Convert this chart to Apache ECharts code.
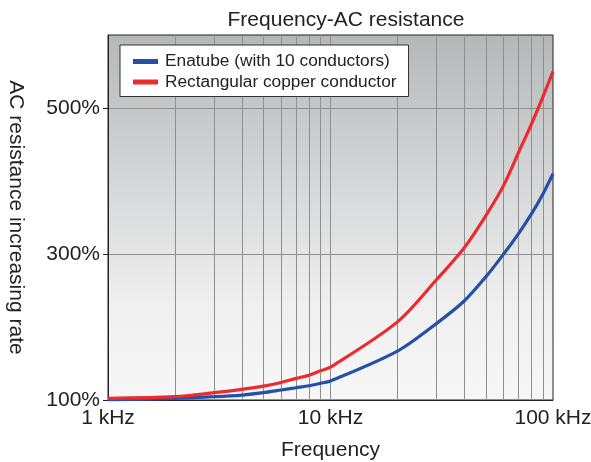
<!DOCTYPE html>
<html>
<head>
<meta charset="utf-8">
<script src="https://cdn.jsdelivr.net/npm/echarts@6/dist/echarts.min.js"></script>
<style>html,body{margin:0;padding:0;background:#fff}#c{width:591px;height:462px}</style>
</head>
<body>
<div id="c"></div>
<script>
const freqs = [1000,2000,3000,4000,5000,6000,7000,8000,9000,10000,20000,30000,40000,50000,60000,70000,80000,90000,100000];
const enatube = [100,102.3,104.5,106.8,110,113.7,116.8,119.5,122.8,126,167,205,236,269,300,328,355,382,410];
const rectangular = [102.3,104.5,110,114.6,119,124,129.6,134,140,145,207,265,309,353,394,439,478,515,550];
const gridFreqs = [2000,3000,4000,5000,6000,7000,8000,9000,10000,20000,30000,40000,50000,60000,70000,80000,90000];
const xLabels = [1000,10000,100000];
const yTicks = [100,300,500];
const seriesNames = ['Enatube (with 10 conductors)','Rectangular copper conductor'];

const font = 'Liberation Sans, Arial, sans-serif';
const pair = (xs, ys) => xs.map((x, i) => [x, ys[i]]);

const chart = echarts.init(document.getElementById('c'));
chart.setOption({
  animation: false,
  title: {
    text: 'Frequency-AC resistance',
    left: 341, top: 5, textAlign: 'center',
    textStyle: {fontFamily: font, fontSize: 21, fontWeight: 'normal', color: '#222'}
  },
  legend: {
    left: 120, top: 45, orient: 'vertical',
    backgroundColor: '#fff', borderColor: '#333', borderWidth: 1,
    padding: [8, 12, 6, 13], itemGap: 3.5,
    itemWidth: 25, itemHeight: 5,
    textStyle: {fontFamily: font, fontSize: 17.3, color: '#222', padding: [0, 0, 0, 2]},
    data: [{name: seriesNames[0], icon: 'rect'}, {name: seriesNames[1], icon: 'rect'}]
  },
  grid: {
    left: 108, right: 38, top: 35, bottom: 62,
    containLabel: false, outerBoundsMode: 'none',
    show: true, borderColor: '#222', borderWidth: 1,
    backgroundColor: new echarts.graphic.LinearGradient(0, 0, 0, 1, [
      {offset: 0, color: '#b6b7b9'},
      {offset: 0.45, color: '#d9dadb'},
      {offset: 0.75, color: '#f0f0f0'},
      {offset: 1, color: '#f7f7f7'}
    ])
  },
  xAxis: {
    type: 'log', min: 1000, max: 100000, logBase: 10,
    name: 'Frequency', nameLocation: 'middle', nameGap: 40,
    nameTextStyle: {fontFamily: font, fontSize: 21, color: '#222'},
    axisLine: {show: true, lineStyle: {color: '#222'}},
    axisTick: {show: false, customValues: gridFreqs},
    axisLabel: {customValues: xLabels, fontFamily: font, fontSize: 21, color: '#222', margin: 8,
      formatter: v => (v / 1000) + ' kHz'},
    splitLine: {show: true, lineStyle: {color: '#8f8f8f', width: 1}},
    minorSplitLine: {show: false}
  },
  yAxis: {
    type: 'value', min: 100, max: 600,
    name: 'AC resistance increasing rate', nameLocation: 'middle', nameGap: 82, nameRotate: -90,
    nameTextStyle: {fontFamily: font, fontSize: 21, color: '#222'},
    axisLine: {show: true, lineStyle: {color: '#222'}},
    axisTick: {show: true, length: 5, customValues: yTicks, lineStyle: {color: '#222'}},
    axisLabel: {customValues: yTicks, fontFamily: font, fontSize: 21, color: '#222', margin: 8,
      formatter: v => v + '%'},
    splitLine: {show: true, lineStyle: {color: '#8f8f8f', width: 1}}
  },
  series: [
    {name: seriesNames[0], type: 'line', data: pair(freqs, enatube), showSymbol: false, smooth: 0.3,
      lineStyle: {color: '#2451a6', width: 3.2}, itemStyle: {color: '#2451a6'}, z: 3},
    {name: seriesNames[1], type: 'line', data: pair(freqs, rectangular), showSymbol: false, smooth: 0.3,
      lineStyle: {color: '#ee2a2e', width: 3.2}, itemStyle: {color: '#ee2a2e'}, z: 3}
  ]
});
</script>
</body>
</html>
